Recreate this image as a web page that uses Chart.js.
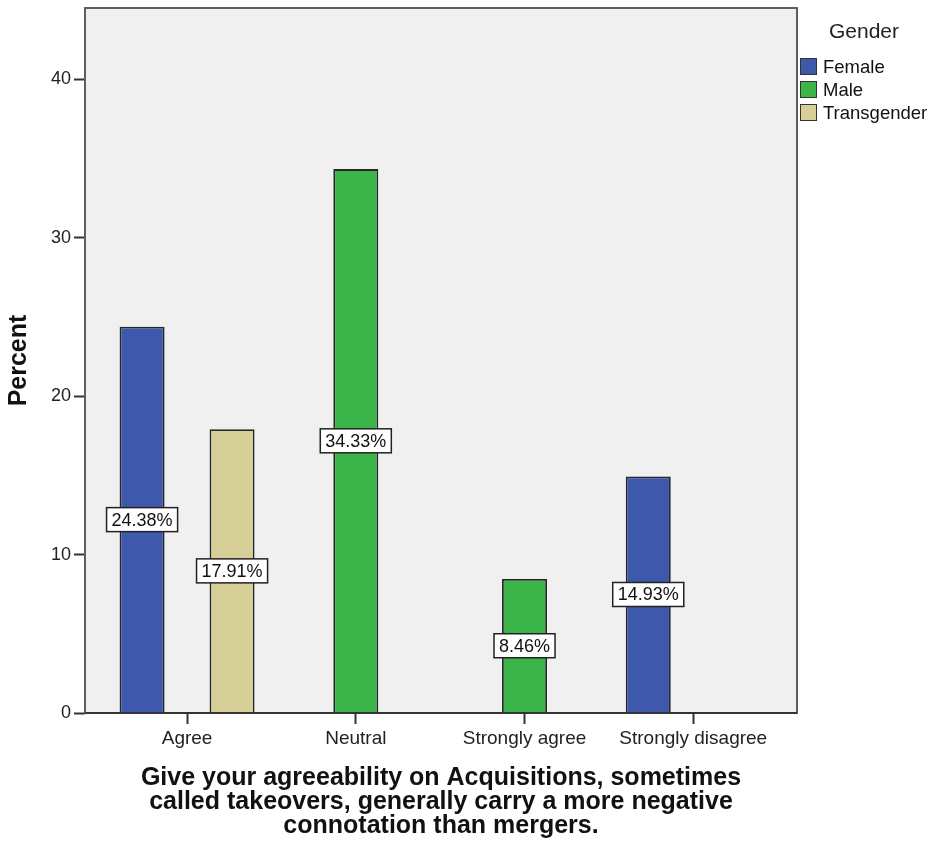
<!DOCTYPE html>
<html>
<head>
<meta charset="utf-8">
<script src="https://cdn.jsdelivr.net/npm/chart.js@4/dist/chart.umd.min.js"></script>
<style>
  html, body { margin: 0; padding: 0; background: #ffffff; }
  #wrap { width: 932px; height: 846px; }
</style>
</head>
<body>
<div id="wrap"><canvas id="c" width="932" height="846"></canvas></div>
<script>
// Response categories along the x axis
const categories = ['Agree', 'Neutral', 'Strongly agree', 'Strongly disagree'];
// Percent of respondents per gender (null = no bar)
const femaleValues = [24.38, null, null, 14.93];
const maleValues = [null, 34.33, 8.46, null];
const transgenderValues = [17.91, null, null, null];
// Y axis tick values
const yTicks = [0, 10, 20, 30, 40];
const seriesNames = ['Female', 'Male', 'Transgender'];
const seriesColors = ['#3e58ac', '#3bb54a', '#d6cf98'];
const xTitleLines = [
  'Give your agreeability on Acquisitions, sometimes',
  'called takeovers, generally carry a more negative',
  'connotation than mergers.'
];

const FONT = '"Liberation Sans", Arial, sans-serif';

function toPoints(values) {
  return values.map((v, i) => ({ x: i, y: v }));
}

const seriesValues = [femaleValues, maleValues, transgenderValues];

// Plot background and frame
const framePlugin = {
  id: 'frame',
  beforeDraw(chart) {
    const { ctx, chartArea: a } = chart;
    ctx.save();
    ctx.fillStyle = '#f0f0f0';
    ctx.fillRect(a.left, a.top, a.right - a.left, a.bottom - a.top);
    ctx.restore();
  },
  afterDatasetsDraw(chart) {
    const { ctx, chartArea: a } = chart;
    ctx.save();
    ctx.strokeStyle = '#5e5e5e';
    ctx.lineWidth = 2;
    ctx.strokeRect(a.left, a.top, a.right - a.left, a.bottom - a.top);
    ctx.strokeStyle = '#333333';
    ctx.beginPath();
    ctx.moveTo(a.left, a.bottom);
    ctx.lineTo(a.right, a.bottom);
    ctx.stroke();
    ctx.restore();
  }
};

// Boxed value labels at the middle of each bar
const valueLabelPlugin = {
  id: 'valueLabels',
  afterDatasetsDraw(chart) {
    const { ctx } = chart;
    ctx.save();
    ctx.font = '18px ' + FONT;
    ctx.textAlign = 'center';
    ctx.textBaseline = 'middle';
    chart.data.datasets.forEach((ds, di) => {
      const meta = chart.getDatasetMeta(di);
      meta.data.forEach((bar, i) => {
        const v = ds.data[i].y;
        if (v === null || v === undefined) return;
        const { x, y, base } = bar.getProps(['x', 'y', 'base'], true);
        const cy = (y + base) / 2;
        const text = v.toFixed(2) + '%';
        const w = ctx.measureText(text).width + 10;
        const h = 24;
        ctx.fillStyle = '#ffffff';
        ctx.fillRect(x - w / 2, cy - h / 2, w, h);
        ctx.strokeStyle = '#222222';
        ctx.lineWidth = 1.5;
        ctx.strokeRect(x - w / 2, cy - h / 2, w, h);
        ctx.fillStyle = '#111111';
        ctx.fillText(text, x, cy + 1);
      });
    });
    ctx.restore();
  }
};

// Legend on the right with a title
const sideLegendPlugin = {
  id: 'sideLegend',
  afterDraw(chart) {
    const { ctx, chartArea: a } = chart;
    ctx.save();
    ctx.fillStyle = '#222222';
    ctx.font = '21px ' + FONT;
    ctx.textAlign = 'center';
    ctx.textBaseline = 'middle';
    ctx.fillText('Gender', a.right + 67, 32);
    ctx.font = '18.5px ' + FONT;
    ctx.textAlign = 'left';
    chart.data.datasets.forEach((ds, i) => {
      const top = 58 + i * 23;
      const left = a.right + 3;
      ctx.fillStyle = ds.backgroundColor;
      ctx.fillRect(left, top, 17, 17);
      ctx.strokeStyle = '#333333';
      ctx.lineWidth = 1;
      ctx.strokeRect(left + 0.5, top + 0.5, 16, 16);
      ctx.fillStyle = '#111111';
      ctx.fillText(ds.label, left + 23, top + 9.5);
    });
    ctx.restore();
  }
};

function clearScalePadding(scale) {
  scale.paddingTop = 0;
  scale.paddingBottom = 0;
  scale.paddingLeft = 0;
  scale.paddingRight = 0;
}

new Chart(document.getElementById('c'), {
  type: 'bar',
  data: {
    datasets: seriesNames.map((name, i) => ({
      label: name,
      data: toPoints(seriesValues[i]),
      backgroundColor: seriesColors[i],
      borderColor: '#262626',
      borderWidth: 1.8,
      categoryPercentage: 0.8,
      barPercentage: 1.0
    }))
  },
  options: {
    responsive: false,
    devicePixelRatio: 1,
    animation: false,
    layout: { padding: { left: 0, right: 135, top: 8, bottom: 0 } },
    plugins: {
      legend: { display: false },
      tooltip: { enabled: false }
    },
    scales: {
      x: {
        type: 'linear',
        offset: false,
        min: -0.605,
        max: 3.615,
        afterBuildTicks(scale) {
          scale.ticks = categories.map((_, i) => ({ value: i }));
        },
        afterFit(scale) { scale.height = 133; clearScalePadding(scale); },
        grid: {
          display: true,
          offset: false,
          drawOnChartArea: false,
          drawTicks: true,
          tickLength: 11,
          tickWidth: 2,
          tickColor: '#333333'
        },
        border: { display: false },
        ticks: {
          autoSkip: false,
          maxRotation: 0,
          padding: 3,
          color: '#222222',
          font: { family: FONT, size: 19 },
          callback: (v) => categories[v]
        },
        title: {
          display: true,
          text: xTitleLines,
          color: '#111111',
          font: { family: FONT, size: 25, weight: 'bold', lineHeight: 0.96 },
          padding: { top: 0, bottom: 8 }
        }
      },
      y: {
        min: 0,
        max: 44.5,
        afterBuildTicks(scale) {
          scale.ticks = yTicks.map((v) => ({ value: v }));
        },
        afterFit(scale) { scale.width = 85; clearScalePadding(scale); },
        grid: {
          display: true,
          drawOnChartArea: false,
          drawTicks: true,
          tickLength: 11,
          tickWidth: 2,
          tickColor: '#333333'
        },
        border: { display: false },
        ticks: {
          padding: 3,
          color: '#222222',
          font: { family: FONT, size: 18 }
        },
        title: {
          display: true,
          text: 'Percent',
          color: '#111111',
          font: { family: FONT, size: 25, weight: 'bold', lineHeight: 1 },
          padding: { top: 7, bottom: 0 }
        }
      }
    }
  },
  plugins: [framePlugin, valueLabelPlugin, sideLegendPlugin]
});
</script>
</body>
</html>
